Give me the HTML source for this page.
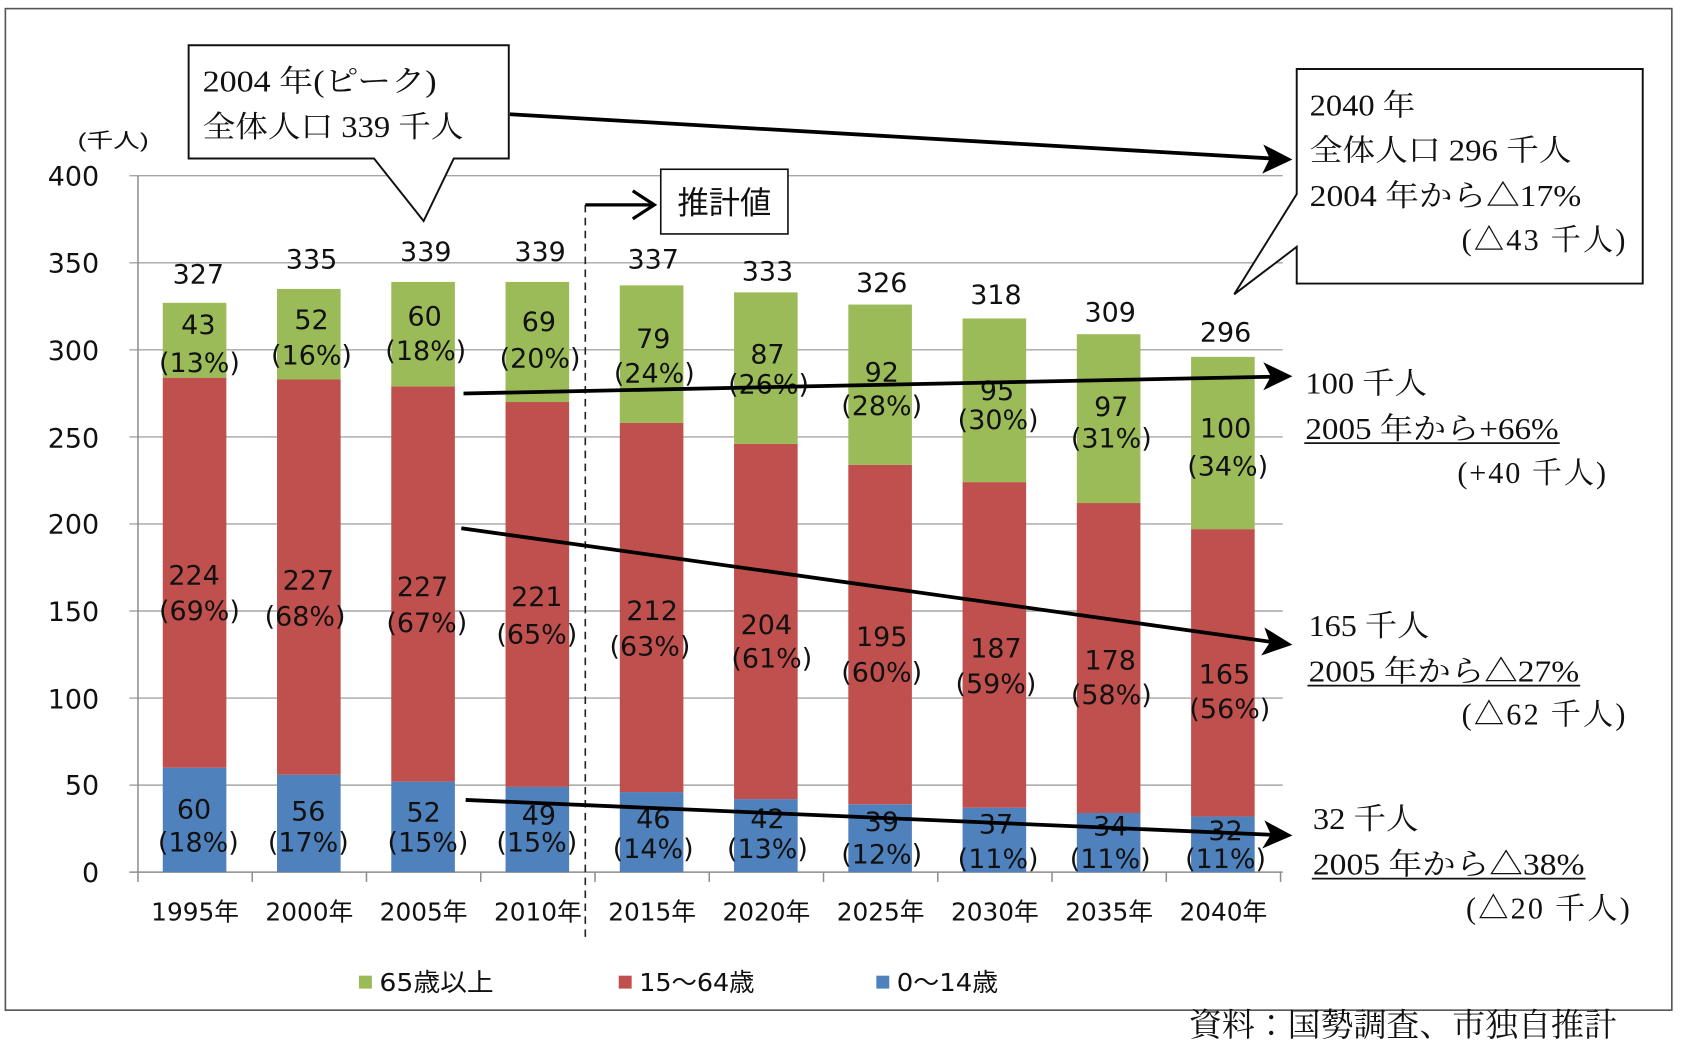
<!DOCTYPE html>
<html><head><meta charset="utf-8"><style>html,body{margin:0;padding:0;background:#fff;}svg{display:block;}</style></head>
<body>
<svg xmlns="http://www.w3.org/2000/svg" width="1688" height="1063" viewBox="0 0 1566 986" preserveAspectRatio="none">
<rect x="0" y="0" width="1566" height="986" fill="#fff"/>
<rect x="5" y="8" width="1546" height="929" fill="none" stroke="#555" stroke-width="1.5"/>

<!-- gridlines -->
<g stroke="#A6A6A6" stroke-width="1.3">
<line x1="120" y1="163" x2="1190" y2="163"/>
<line x1="120" y1="243.75" x2="1190" y2="243.75"/>
<line x1="120" y1="324.5" x2="1190" y2="324.5"/>
<line x1="120" y1="405.25" x2="1190" y2="405.25"/>
<line x1="120" y1="486" x2="1190" y2="486"/>
<line x1="120" y1="566.75" x2="1190" y2="566.75"/>
<line x1="120" y1="647.5" x2="1190" y2="647.5"/>
<line x1="120" y1="728.25" x2="1190" y2="728.25"/>
</g>
<g stroke="#8C8C8C" stroke-width="1.4">
<line x1="128" y1="163" x2="128" y2="809"/>
<line x1="120" y1="809" x2="1190" y2="809"/>
<line x1="128" y1="809" x2="128" y2="818"/><line x1="234" y1="809" x2="234" y2="818"/><line x1="340" y1="809" x2="340" y2="818"/><line x1="446" y1="809" x2="446" y2="818"/><line x1="552" y1="809" x2="552" y2="818"/><line x1="658" y1="809" x2="658" y2="818"/><line x1="764" y1="809" x2="764" y2="818"/><line x1="870" y1="809" x2="870" y2="818"/><line x1="976" y1="809" x2="976" y2="818"/><line x1="1082" y1="809" x2="1082" y2="818"/><line x1="1188" y1="809" x2="1188" y2="818"/>
</g>

<!-- y labels -->
<g font-family="'DejaVu Sans','Liberation Sans',sans-serif" font-size="25" fill="#111" text-anchor="end">
<text x="92" y="172">400</text><text x="92" y="253">350</text><text x="92" y="334">300</text><text x="92" y="415">250</text><text x="92" y="495">200</text><text x="92" y="576">150</text><text x="92" y="657">100</text><text x="92" y="737">50</text><text x="92" y="818">0</text>
</g>
<text x="72" y="137" font-family="'Liberation Sans','Noto Sans CJK JP',sans-serif" font-size="19" fill="#111" textLength="66" lengthAdjust="spacingAndGlyphs">(千人)</text>

<!-- bars -->
<g>
<rect x="151" y="712.1" width="59" height="96.9" fill="#4F81BD"/><rect x="151" y="350.3" width="59" height="361.8" fill="#C0504D"/><rect x="151" y="280.9" width="59" height="69.4" fill="#9BBB59"/>
<rect x="257" y="718.6" width="59" height="90.4" fill="#4F81BD"/><rect x="257" y="352" width="59" height="366.6" fill="#C0504D"/><rect x="257" y="268" width="59" height="84" fill="#9BBB59"/>
<rect x="363" y="725" width="59" height="84" fill="#4F81BD"/><rect x="363" y="358.4" width="59" height="366.6" fill="#C0504D"/><rect x="363" y="261.5" width="59" height="96.9" fill="#9BBB59"/>
<rect x="469" y="729.9" width="59" height="79.1" fill="#4F81BD"/><rect x="469" y="372.9" width="59" height="357" fill="#C0504D"/><rect x="469" y="261.5" width="59" height="111.4" fill="#9BBB59"/>
<rect x="575" y="734.7" width="59" height="74.3" fill="#4F81BD"/><rect x="575" y="392.3" width="59" height="342.4" fill="#C0504D"/><rect x="575" y="264.7" width="59" height="127.6" fill="#9BBB59"/>
<rect x="681" y="741.2" width="59" height="67.8" fill="#4F81BD"/><rect x="681" y="411.7" width="59" height="329.5" fill="#C0504D"/><rect x="681" y="271.2" width="59" height="140.5" fill="#9BBB59"/>
<rect x="787" y="746" width="59" height="63" fill="#4F81BD"/><rect x="787" y="431.1" width="59" height="314.9" fill="#C0504D"/><rect x="787" y="282.5" width="59" height="148.6" fill="#9BBB59"/>
<rect x="893" y="749.2" width="59" height="59.8" fill="#4F81BD"/><rect x="893" y="447.2" width="59" height="302" fill="#C0504D"/><rect x="893" y="295.4" width="59" height="151.8" fill="#9BBB59"/>
<rect x="999" y="754.1" width="59" height="54.9" fill="#4F81BD"/><rect x="999" y="466.6" width="59" height="287.5" fill="#C0504D"/><rect x="999" y="310" width="59" height="156.6" fill="#9BBB59"/>
<rect x="1105" y="757.3" width="59" height="51.7" fill="#4F81BD"/><rect x="1105" y="490.8" width="59" height="266.5" fill="#C0504D"/><rect x="1105" y="331" width="59" height="159.8" fill="#9BBB59"/>
</g>

<!-- data labels -->
<g font-family="'DejaVu Sans','Liberation Sans',sans-serif" font-size="25" fill="#111" text-anchor="middle">
<text x="184" y="263">327</text><text x="289" y="249">335</text><text x="395" y="242">339</text><text x="501" y="242">339</text><text x="606" y="249">337</text><text x="712" y="260">333</text><text x="818" y="271">326</text><text x="924" y="282">318</text><text x="1030" y="298">309</text><text x="1137" y="317">296</text>
<text x="184" y="310">43</text><text x="185" y="345">(13%)</text>
<text x="289" y="305">52</text><text x="289" y="338">(16%)</text>
<text x="394" y="302">60</text><text x="395" y="334">(18%)</text>
<text x="500" y="307">69</text><text x="501" y="341">(20%)</text>
<text x="606" y="323">79</text><text x="607" y="355">(24%)</text>
<text x="712" y="337">87</text><text x="713" y="365">(26%)</text>
<text x="818" y="354">92</text><text x="818" y="385">(28%)</text>
<text x="925" y="371">95</text><text x="926" y="398">(30%)</text>
<text x="1031" y="386">97</text><text x="1031" y="415">(31%)</text>
<text x="1137" y="406">100</text><text x="1139" y="441">(34%)</text>
<text x="180" y="542">224</text><text x="185" y="575">(69%)</text>
<text x="286" y="547">227</text><text x="283" y="580">(68%)</text>
<text x="392" y="553">227</text><text x="396" y="586">(67%)</text>
<text x="498" y="562">221</text><text x="498" y="597">(65%)</text>
<text x="605" y="575">212</text><text x="603" y="608">(63%)</text>
<text x="711" y="588">204</text><text x="716" y="619">(61%)</text>
<text x="818" y="599">195</text><text x="818" y="632">(60%)</text>
<text x="924" y="610">187</text><text x="924" y="643">(59%)</text>
<text x="1030" y="621">178</text><text x="1031" y="653">(58%)</text>
<text x="1136" y="634">165</text><text x="1141" y="666">(56%)</text>
<text x="180" y="759">60</text><text x="184" y="790">(18%)</text>
<text x="286" y="761">56</text><text x="286" y="790">(17%)</text>
<text x="393" y="762">52</text><text x="397" y="790">(15%)</text>
<text x="500" y="765">49</text><text x="498" y="790">(15%)</text>
<text x="606" y="768">46</text><text x="606" y="796">(14%)</text>
<text x="712" y="768">42</text><text x="712" y="796">(13%)</text>
<text x="818" y="771">39</text><text x="818" y="801">(12%)</text>
<text x="924" y="773">37</text><text x="926" y="805">(11%)</text>
<text x="1030" y="775">34</text><text x="1030" y="805">(11%)</text>
<text x="1137" y="779">32</text><text x="1137" y="805">(11%)</text>
</g>

<!-- x labels -->
<g font-family="'DejaVu Sans','Noto Sans CJK JP',sans-serif" font-size="23" fill="#111" text-anchor="middle">
<text x="181" y="854">1995年</text><text x="287" y="854">2000年</text><text x="393" y="854">2005年</text><text x="499" y="854">2010年</text><text x="605" y="854">2015年</text><text x="711" y="854">2020年</text><text x="817" y="854">2025年</text><text x="923" y="854">2030年</text><text x="1029" y="854">2035年</text><text x="1135" y="854">2040年</text>
</g>

<!-- dashed line & 推計値 -->
<line x1="543" y1="190" x2="543" y2="870" stroke="#222" stroke-width="1.5" stroke-dasharray="7,5"/>
<line x1="543" y1="190" x2="606" y2="190" stroke="#000" stroke-width="3"/>
<polyline points="587,177 607,190 587,203" fill="none" stroke="#000" stroke-width="3"/>
<rect x="613" y="157" width="118" height="60" fill="#fff" stroke="#111" stroke-width="1.5"/>
<text x="672" y="198" font-family="'Liberation Sans','Noto Sans CJK JP',sans-serif" font-size="29" fill="#111" text-anchor="middle">推計値</text>

<!-- legend -->
<rect x="333" y="905" width="12" height="12" fill="#9BBB59"/>
<rect x="574" y="905" width="12" height="12" fill="#C0504D"/>
<rect x="813" y="905" width="12" height="12" fill="#4F81BD"/>
<g font-family="'DejaVu Sans','Noto Sans CJK JP',sans-serif" font-size="23" fill="#111">
<text x="352" y="919" textLength="106" lengthAdjust="spacingAndGlyphs">65歳以上</text>
<text x="593" y="919" textLength="107" lengthAdjust="spacingAndGlyphs">15〜64歳</text>
<text x="832" y="919" textLength="94" lengthAdjust="spacingAndGlyphs">0〜14歳</text>
</g>

<!-- arrows -->
<g stroke="#000" stroke-width="3.5" fill="none">
<line x1="473" y1="106" x2="1180" y2="147"/>
<line x1="430" y1="365" x2="1180" y2="349.4"/>
<line x1="428" y1="490" x2="1180" y2="595.5"/>
<line x1="432" y1="742" x2="1180" y2="774.3"/>
</g>
<g fill="#000">
<polygon points="1199,148 1171,161 1178,147 1172,134"/>
<polygon points="1199,349 1172,362 1179,349 1172,336"/>
<polygon points="1199,598 1170,608 1178,596 1173,582"/>
<polygon points="1199,775 1171,787 1179,774 1173,761"/>
</g>

<!-- callout 1 -->
<path d="M175,42 H472 V147 H421 L393,205 L347,147 H175 Z" fill="#fff" stroke="#111" stroke-width="1.8"/>
<g font-family="'Liberation Serif','Noto Serif CJK JP',serif" font-size="28" fill="#111">
<text x="188" y="85" textLength="217" lengthAdjust="spacingAndGlyphs">2004 年(ピーク)</text>
<text x="188" y="127" textLength="242" lengthAdjust="spacingAndGlyphs">全体人口 339 千人</text>
</g>

<!-- callout 2 -->
<path d="M1203,64 H1524 V263 H1203 V229 L1145,273 L1203,180 Z" fill="#fff" stroke="#111" stroke-width="1.8"/>
<g font-family="'Liberation Serif','Noto Serif CJK JP',serif" font-size="28" fill="#111">
<text x="1215" y="107" textLength="98" lengthAdjust="spacingAndGlyphs">2040 年</text>
<text x="1215" y="149" textLength="243" lengthAdjust="spacingAndGlyphs">全体人口 296 千人</text>
<text x="1215" y="191" textLength="252" lengthAdjust="spacingAndGlyphs">2004 年から△17%</text>
<text x="1356" y="232" textLength="152" lengthAdjust="spacing">(△43 千人)</text>
</g>

<!-- right annotations -->
<g font-family="'Liberation Serif','Noto Serif CJK JP',serif" font-size="28" fill="#111">
<text x="1211" y="365" textLength="113" lengthAdjust="spacingAndGlyphs">100 千人</text>
<text x="1211" y="407" textLength="235" lengthAdjust="spacingAndGlyphs">2005 年から+66%</text>
<text x="1352" y="448" textLength="138" lengthAdjust="spacing">(+40 千人)</text>
<text x="1214" y="590" textLength="112" lengthAdjust="spacingAndGlyphs">165 千人</text>
<text x="1214" y="632" textLength="251" lengthAdjust="spacingAndGlyphs">2005 年から△27%</text>
<text x="1356" y="672" textLength="152" lengthAdjust="spacing">(△62 千人)</text>
<text x="1218" y="769" textLength="98" lengthAdjust="spacingAndGlyphs">32 千人</text>
<text x="1218" y="811" textLength="252" lengthAdjust="spacingAndGlyphs">2005 年から△38%</text>
<text x="1360" y="852" textLength="152" lengthAdjust="spacing">(△20 千人)</text>
</g>
<g stroke="#111" stroke-width="1.6">
<line x1="1210" y1="411" x2="1447" y2="411"/>
<line x1="1213" y1="636" x2="1466" y2="636"/>
<line x1="1217" y1="815" x2="1471" y2="815"/>
</g>

<!-- source -->
<text x="1103" y="961" font-family="'Liberation Serif','Noto Serif CJK JP',serif" font-size="30" fill="#111" textLength="397" lengthAdjust="spacingAndGlyphs">資料：国勢調査、市独自推計</text>
</svg>
</body></html>
